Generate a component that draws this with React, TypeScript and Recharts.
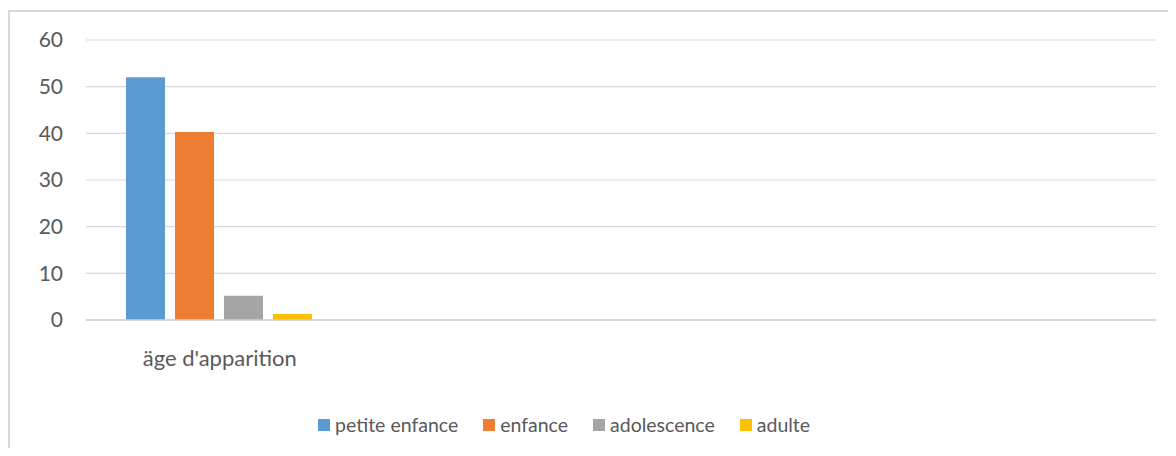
import React from 'react';
import { BarChart, Bar, XAxis, YAxis, CartesianGrid, Legend } from 'recharts';

const categories = ["äge d'apparition", '', '', ''];
const petiteEnfance = [52, null, null, null];
const enfance = [40.3, null, null, null];
const adolescence = [5.2, null, null, null];
const adulte = [1.3, null, null, null];
const yTicks = [0, 10, 20, 30, 40, 50, 60];

const SERIES = [
  { key: 'petiteEnfance', name: 'petite enfance', color: '#5B9BD5', values: petiteEnfance },
  { key: 'enfance', name: 'enfance', color: '#ED7D31', values: enfance },
  { key: 'adolescence', name: 'adolescence', color: '#A5A5A5', values: adolescence },
  { key: 'adulte', name: 'adulte', color: '#FFC000', values: adulte },
];

const data = categories.map((name, i) => {
  const row: Record<string, string | number | null> = { name };
  SERIES.forEach((s) => {
    row[s.key] = s.values[i];
  });
  return row;
});

const FONT = 'Lato, "Open Sans", sans-serif';
const TEXT = '#595959';

// keep legend in series order (recharts sorts by name otherwise)
const LegendContent = ({ payload }: any) => {
  const items = SERIES.map((s) => (payload || []).find((p: any) => p.value === s.name)).filter(Boolean);
  return (
    <div style={{ display: 'flex', alignItems: 'center', fontFamily: FONT, fontSize: 19.5, color: TEXT }}>
      {items.map((p: any) => (
        <div key={p.value} style={{ display: 'flex', alignItems: 'center', marginRight: 25 }}>
          <span style={{ width: 12, height: 12, background: p.color, display: 'inline-block', marginRight: 5 }} />
          <span>{p.value}</span>
        </div>
      ))}
    </div>
  );
};

const App: React.FC = () => {
  return (
    <div
      style={{
        marginTop: 2,
        width: 1166,
        height: 436,
        borderLeft: '2px solid #d9d9d9',
        borderTop: '2px solid #d9d9d9',
        background: '#fff',
      }}
    >
      <BarChart
        width={1166}
        height={436}
        data={data}
        margin={{ top: 28, right: 20, left: 1, bottom: 11 }}
        barCategoryGap={40}
        barGap={10}
      >
        <CartesianGrid vertical={false} stroke="#d9d9d9" strokeWidth={1.2} />
        <XAxis
          dataKey="name"
          height={93}
          axisLine={{ stroke: '#d0d0d0', strokeWidth: 1.6 }}
          tickLine={false}
          tickSize={0}
          tickMargin={30}
          tick={{ fill: TEXT, fontSize: 22, fontFamily: FONT }}
          interval={0}
        />
        <YAxis
          width={75}
          domain={[0, 60]}
          ticks={yTicks}
          axisLine={false}
          tickLine={false}
          tickSize={0}
          tickMargin={23}
          tick={{ fill: TEXT, fontSize: 21, fontFamily: FONT }}
        />
        <Legend
          height={24}
          verticalAlign="bottom"
          content={<LegendContent />}
          wrapperStyle={{ left: 308, width: 600 }}
        />
        {SERIES.map((s) => (
          <Bar key={s.key} dataKey={s.key} name={s.name} fill={s.color} isAnimationActive={false} />
        ))}
      </BarChart>
    </div>
  );
};

export default App;
